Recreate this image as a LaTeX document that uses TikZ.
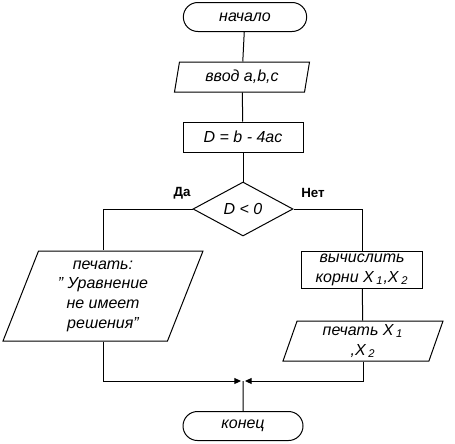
\documentclass[tikz,border=0pt]{standalone}
\usepackage{fontspec}
\setmainfont{Liberation Sans}
\usetikzlibrary{arrows.meta}
\usetikzlibrary{positioning}
\usetikzlibrary{shapes.geometric}
\usetikzlibrary{shapes.misc}

\tikzset{
    box/.style={
        draw=black, line width=0.6pt,
        inner sep=0pt, align=center,
        font=\fontsize{9.6}{11.8}\selectfont\itshape,
    },
    terminal/.style={box, rounded rectangle,
        minimum width=74pt, minimum height=17.4pt},
    procbox/.style={box, rectangle},
    iobox/.style={box, trapezium, trapezium stretches body=true},
    decision/.style={box, diamond},
    answer/.style={font=\fontsize{8}{9}\selectfont\bfseries},
    line/.style={draw=black, line width=0.6pt},
    mergeline/.style={line, -{Triangle[length=4pt,width=3.6pt]}, shorten >=1.2pt},
}

\begin{document}
\begin{tikzpicture}[x=0.6pt, y=-0.6pt]
        \useasboundingbox (0,0) rectangle (455,443);

        \node (start) at(245,17) [terminal] {начало};

        \node (input) at(242,77) [
            iobox,
            trapezium left angle=70, trapezium right angle=110,
            minimum width=81pt, minimum height=18pt,
        ] {ввод a,b,c};

        \node (calc) at(243,137) [
            procbox,
            minimum width=72pt, minimum height=18pt,
        ] {D = b - 4ac};

        \node (cond) at(243,209) [
            decision, aspect=1.85,
            minimum width=60pt, minimum height=32.4pt,
        ] {D < 0};

        \node (yes) at(182,193) [answer] {Да};
        \node (no) at(313,193) [answer] {Нет};

        \node (nosol) at(103,296) [
            iobox,
            trapezium left angle=63.4, trapezium right angle=116.6,
            minimum width=120pt, minimum height=54pt,
        ] {печать:\\" Уравнение\\не имеет\\решения"};

        \node (roots) at(362,270) [
            procbox,
            minimum width=72.6pt, minimum height=22.2pt,
        ] {вычислить\\корни X\,\textsubscript{1},X\,\textsubscript{2}};

        \node (output) at(363,341) [
            iobox,
            trapezium left angle=67, trapezium right angle=113,
            minimum width=96pt, minimum height=24pt,
        ] {печать X\,\textsubscript{1}\\,X\,\textsubscript{2}};

        \coordinate (merge) at(243,381);

        \node (stop) at(243,426) [terminal, minimum width=72pt] {конец};

        % main column
        \draw [line] (start) -- (input);
        \draw [line] (input) -- (calc);
        \draw [line] (calc) -- (cond);

        % branches
        \draw [line] (cond.west) -| (nosol.north);
        \draw [line] (cond.east) -| (roots.north);
        \draw [line] (roots) -- (output);

        % join to the end
        \draw [mergeline] (nosol.south) |- (merge);
        \draw [mergeline] (output.south) |- (merge);
        \draw [line] (merge) -- (stop);
    \end{tikzpicture}
\end{document}
